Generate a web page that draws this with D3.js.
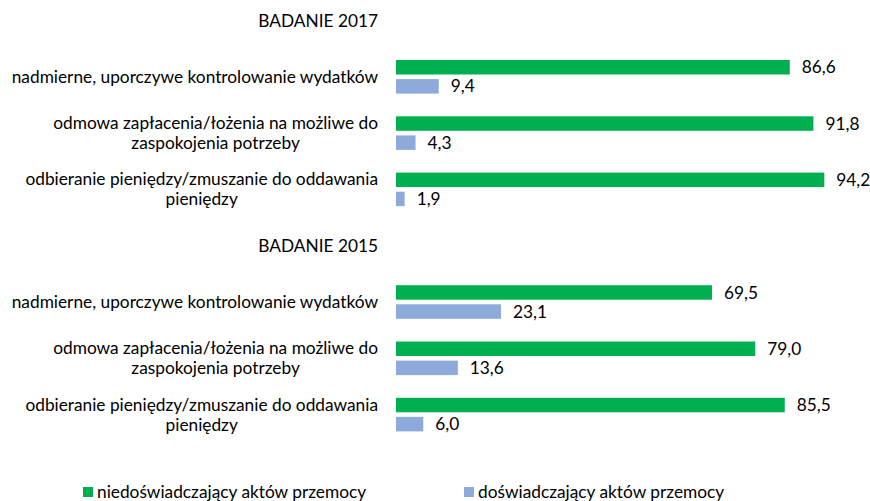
<!DOCTYPE html>
<html>
<head>
<meta charset="utf-8">
<script src="https://cdn.jsdelivr.net/npm/d3@7"></script>
<style>
  body { margin: 0; background: #fff; }
  text { font-family: Lato, "Open Sans", sans-serif; fill: #000; }
</style>
</head>
<body>
<svg id="chart"></svg>
<script>
// Data
const years = ["BADANIE 2017", "BADANIE 2015"]
const categories = [
    "nadmierne, uporczywe kontrolowanie wydatków",
    "odmowa zapłacenia/łożenia na możliwe do\nzaspokojenia potrzeby",
    "odbieranie pieniędzy/zmuszanie do oddawania\npieniędzy",
]
const series_names = ["niedoświadczający aktów przemocy", "doświadczający aktów przemocy"]
const not_experiencing = { "BADANIE 2017": [86.6, 91.8, 94.2], "BADANIE 2015": [69.5, 79.0, 85.5] }
const experiencing = { "BADANIE 2017": [9.4, 4.3, 1.9], "BADANIE 2015": [23.1, 13.6, 6.0] }
const colors = ["#00b050", "#8eaadb"]

const width = 870
const height = 501
const font_size = 17.3

const svg = d3.select("#chart")
    .attr("width", width)
    .attr("height", height)

// Build rows: a title row per year, then one row per category
const rows = []
years.forEach(function(year) {
    rows.push({ id: year, label: year, title: true })
    categories.forEach(function(cat, i) {
        rows.push({
            id: year + "|" + i,
            label: cat,
            title: false,
            values: [not_experiencing[year][i], experiencing[year][i]],
        })
    })
})

const y = d3.scalePoint()
    .domain(rows.map(d => d.id))
    .range([20.5, 414.6])

const x = d3.scaleLinear()
    .domain([0, 100])
    .range([396, 850.7])

const bar_height = 14.5
const bar_offsets = [-16.8, 2.3]
const fmt = v => d3.format(".1f")(v).replace(".", ",")

const label_right = 378

// Row labels
rows.forEach(function(row) {
    const lines = row.label.split("\n")
    const g = svg.append("g")
    const texts = lines.map(function(line, i) {
        return g.append("text")
            .attr("y", y(row.id) + (i - (lines.length - 1) / 2) * 20)
            .attr("dy", "0.35em")
            .attr("font-size", font_size)
            .text(line)
    })
    const block_width = d3.max(texts, t => t.node().getComputedTextLength())
    texts.forEach(function(t) {
        t.attr("x", label_right - block_width / 2).attr("text-anchor", "middle")
    })
})

// Bars and value labels
const data_rows = rows.filter(d => !d.title)
data_rows.forEach(function(row) {
    const g = svg.append("g")
    g.selectAll("rect")
        .data(row.values)
        .enter()
        .append("rect")
        .attr("x", x(0))
        .attr("y", (d, i) => y(row.id) + bar_offsets[i])
        .attr("width", d => x(d) - x(0))
        .attr("height", bar_height)
        .attr("fill", (d, i) => colors[i])

    g.selectAll("text")
        .data(row.values)
        .enter()
        .append("text")
        .attr("x", d => x(d) + 12)
        .attr("y", (d, i) => y(row.id) + bar_offsets[i] + bar_height / 2)
        .attr("dy", "0.35em")
        .attr("font-size", font_size)
        .text(d => fmt(d))
})

// Legend
const legend_x = [83, 464]
const legend = svg.append("g")
series_names.forEach(function(name, i) {
    legend.append("rect")
        .attr("x", legend_x[i])
        .attr("y", 487)
        .attr("width", 10)
        .attr("height", 10)
        .attr("fill", colors[i])
    legend.append("text")
        .attr("x", legend_x[i] + 14)
        .attr("y", 492)
        .attr("dy", "0.35em")
        .attr("font-size", font_size)
        .text(name)
})
</script>
</body>
</html>
